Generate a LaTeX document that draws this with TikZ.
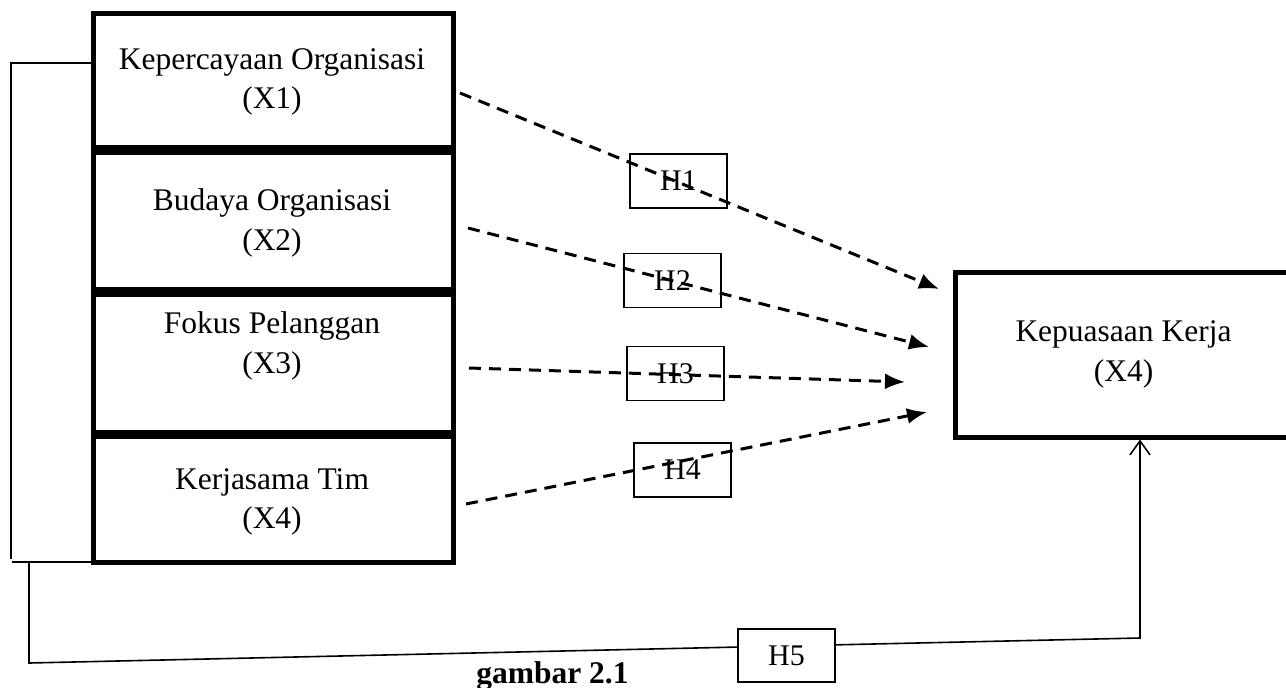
\documentclass[tikz,border=0pt]{standalone}
\usepackage{fontspec}
\setmainfont{Liberation Serif}
\usetikzlibrary{arrows.meta}
\begin{document}
\begin{tikzpicture}[x=1pt,y=-1pt,
  bigbox/.style={draw, line width=5pt, inner sep=0pt},
  hbox/.style={draw, line width=1.3pt, minimum width=97pt, minimum height=54pt, inner sep=0pt, font=\fontsize{30}{36}\selectfont},
  lbl/.style={font=\fontsize{31.5}{39.5}\selectfont, align=center, inner sep=0pt},
  dasharrow/.style={line width=3pt, dash pattern=on 12pt off 8pt, -{Latex[length=20pt,width=16pt]}},
  thinline/.style={line width=1.6pt}
]
\useasboundingbox (0,0) rectangle (1286,688);
% left boxes
\node[bigbox, minimum width=360pt, minimum height=134.5pt] (b1) at (273,80.25) {};
\node[bigbox, minimum width=360pt, minimum height=137pt] (b2) at (273,221) {};
\node[bigbox, minimum width=360pt, minimum height=138pt] (b3) at (273,363) {};
\node[bigbox, minimum width=360pt, minimum height=125.5pt] (b4) at (273,499.25) {};
\node[lbl] (t1) at (272,82) {Kepercayaan Organisasi\\(X1)};
\node[lbl] (t2) at (272,223) {Budaya Organisasi\\(X2)};
\node[lbl] (t3) at (272,346) {Fokus Pelanggan\\(X3)};
\node[lbl] (t4) at (272,502) {Kerjasama Tim\\(X4)};
% right box
\node[bigbox, minimum width=337pt, minimum height=165pt, lbl] (kk) at (1123.5,354.5) {Kepuasaan Kerja\\(X4)};
% H boxes
\node[hbox] (h1) at (678.5,181) {H1\hspace{22pt}};
\node[hbox] (h2) at (672.5,280.5) {H2\hspace{20pt}};
\node[hbox] (h3) at (675.5,373.5) {H3\hspace{20pt}};
\node[hbox] (h4) at (682.5,470) {H4\hspace{20pt}};
% dashed arrows
\coordinate (s1) at (460,93);  \coordinate (e1) at (939,289);
\coordinate (s2) at (468,228); \coordinate (e2) at (929,347);
\coordinate (s3) at (469,368); \coordinate (e3) at (905,382);
\coordinate (s4) at (466,504); \coordinate (e4) at (927,412);
\draw[dasharrow] (s1) -- (e1);
\draw[dasharrow] (s2) -- (e2);
\draw[dasharrow] (s3) -- (e3);
\draw[dasharrow] (s4) -- (e4);
% bracket
\coordinate (c1) at (11,63);
\coordinate (c2) at (11,559);
\coordinate (c3) at (12,562);
\coordinate (c4) at (29,562);
\coordinate (c5) at (29,663);
\coordinate (c6) at (1140,638);
\draw[thinline] (b1.west |- c1) -- (c1) -- (c2);
\draw[thinline] (c3) -- (b4.west |- c3);
\draw[thinline, -{Straight Barb[length=14pt,width=20pt,line width=1.6pt]}] (c4) -- (c5) -- (c6) -- (c6 |- kk.south);
\node[hbox, fill=white, minimum height=53pt] (h5) at (786.5,655.5) {H5\hspace{20pt}};
% caption
\node[font=\fontsize{31.5}{36}\selectfont\bfseries, anchor=base, inner sep=0pt] (cap) at (552.5,683) {gambar 2.1};
\end{tikzpicture}
\end{document}
